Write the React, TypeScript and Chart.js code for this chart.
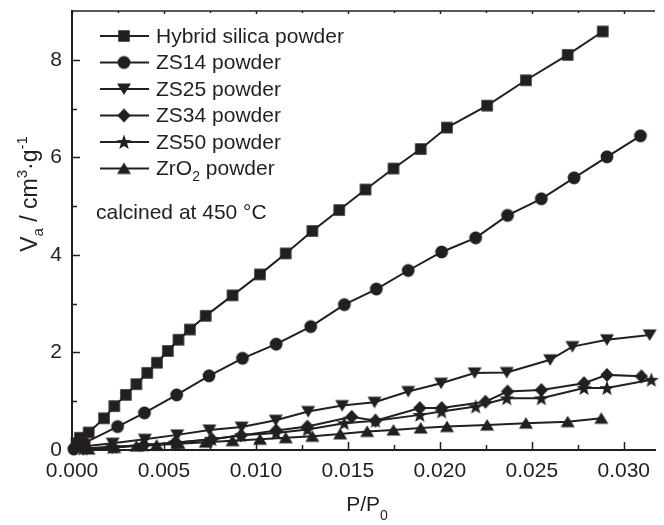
import React, { useEffect, useRef } from 'react';
import { Chart, registerables } from 'chart.js';

Chart.register(...registerables);

const INK = '#231f20';
const FONT = '"Liberation Sans", Arial, sans-serif';

const seriesLabels = ['Hybrid silica powder', 'ZS14 powder', 'ZS25 powder', 'ZS34 powder', 'ZS50 powder', 'ZrO2 powder'];

const hybridX = [0.00025, 0.00043, 0.00091, 0.00174, 0.0023, 0.00293, 0.0035, 0.00409, 0.00462, 0.00521, 0.00579, 0.00641, 0.00727, 0.00873, 0.01022, 0.01162, 0.01307, 0.01453, 0.01596, 0.01748, 0.01896, 0.02039, 0.02257, 0.02468, 0.02695, 0.02886];
const hybridY = [0.14, 0.25, 0.36, 0.65, 0.9, 1.13, 1.35, 1.58, 1.79, 2.03, 2.26, 2.47, 2.75, 3.17, 3.6, 4.03, 4.49, 4.92, 5.34, 5.77, 6.17, 6.61, 7.06, 7.58, 8.1, 8.58];

const zs14X = [0.0001, 0.00066, 0.00248, 0.00394, 0.00569, 0.00745, 0.00927, 0.0111, 0.01298, 0.01481, 0.01655, 0.01828, 0.0201, 0.02195, 0.02368, 0.02552, 0.0273, 0.02909, 0.03091];
const zs14Y = [0.02, 0.14, 0.48, 0.76, 1.13, 1.52, 1.88, 2.17, 2.53, 2.98, 3.3, 3.68, 4.06, 4.35, 4.81, 5.15, 5.58, 6.01, 6.44];

const zs25X = [0.00056, 0.00221, 0.00396, 0.00572, 0.00747, 0.00922, 0.01108, 0.01284, 0.01469, 0.01645, 0.01828, 0.02007, 0.02189, 0.02364, 0.026, 0.02721, 0.02909, 0.03141];
const zs25Y = [0.07, 0.14, 0.22, 0.31, 0.41, 0.47, 0.61, 0.79, 0.91, 0.98, 1.2, 1.37, 1.58, 1.59, 1.85, 2.12, 2.26, 2.36];

const zs34X = [0.0006, 0.0022, 0.0039, 0.0056, 0.0076, 0.0092, 0.0111, 0.0128, 0.01521, 0.0165, 0.01891, 0.0201, 0.02248, 0.02368, 0.02552, 0.02784, 0.02909, 0.03096];
const zs34Y = [0.03, 0.06, 0.1, 0.15, 0.22, 0.3, 0.4, 0.48, 0.68, 0.6, 0.86, 0.86, 0.99, 1.2, 1.23, 1.37, 1.54, 1.51];

const zs50X = [0.0006, 0.0022, 0.0039, 0.0056, 0.0076, 0.0092, 0.0111, 0.0128, 0.0148, 0.0165, 0.01891, 0.0201, 0.02195, 0.02364, 0.02552, 0.02784, 0.02909, 0.0315];
const zs50Y = [0.03, 0.06, 0.1, 0.15, 0.22, 0.3, 0.35, 0.42, 0.55, 0.6, 0.72, 0.79, 0.89, 1.06, 1.06, 1.27, 1.27, 1.44];

const zro2X = [0.0009, 0.0023, 0.0035, 0.0046, 0.0058, 0.00727, 0.00873, 0.01022, 0.01162, 0.01307, 0.01458, 0.01605, 0.01748, 0.01896, 0.02039, 0.02257, 0.02468, 0.02695, 0.02878];
const zro2Y = [0.02, 0.05, 0.08, 0.1, 0.13, 0.16, 0.19, 0.22, 0.25, 0.28, 0.33, 0.38, 0.41, 0.45, 0.48, 0.51, 0.55, 0.58, 0.65];

const xTicks = [0, 0.005, 0.01, 0.015, 0.02, 0.025, 0.03];
const yTicks = [0, 2, 4, 6, 8];
const xMinor = [0.0025, 0.0075, 0.0125, 0.0175, 0.0225, 0.0275];
const yMinor = [1, 3, 5, 7];

type Shape = 'square' | 'circle' | 'down' | 'diamond' | 'star' | 'up';
const shapes: Shape[] = ['square', 'circle', 'down', 'diamond', 'star', 'up'];

function makeMarker(shape: Shape): HTMLCanvasElement {
  const size = 18;
  const c = document.createElement('canvas');
  c.width = size;
  c.height = size;
  const g = c.getContext('2d')!;
  g.fillStyle = INK;
  const m = size / 2;
  g.beginPath();
  if (shape === 'square') {
    g.rect(m - 5.75, m - 5.75, 11.5, 11.5);
  } else if (shape === 'circle') {
    g.arc(m, m, 6.4, 0, Math.PI * 2);
  } else if (shape === 'down') {
    g.moveTo(m - 7, m - 5.5);
    g.lineTo(m + 7, m - 5.5);
    g.lineTo(m, m + 6);
  } else if (shape === 'up') {
    g.moveTo(m, m - 6);
    g.lineTo(m + 7, m + 5.5);
    g.lineTo(m - 7, m + 5.5);
  } else if (shape === 'diamond') {
    g.moveTo(m, m - 7);
    g.lineTo(m + 6.7, m);
    g.lineTo(m, m + 7);
    g.lineTo(m - 6.7, m);
  } else {
    const ro = 8, ri = 3.3;
    for (let i = 0; i < 10; i++) {
      const r = i % 2 === 0 ? ro : ri;
      const a = -Math.PI / 2 + (i * Math.PI) / 5;
      const px = m + r * Math.cos(a);
      const py = m + 0.6 + r * Math.sin(a);
      if (i === 0) g.moveTo(px, py);
      else g.lineTo(px, py);
    }
  }
  g.closePath();
  g.fill();
  return c;
}

function pts(xs: number[], ys: number[]) {
  return xs.map((x, i) => ({ x, y: ys[i] }));
}

export default function App() {
  const ref = useRef<HTMLCanvasElement>(null);

  useEffect(() => {
    if (!ref.current) return;
    const markers = shapes.map(makeMarker);
    const allData = [
      pts(hybridX, hybridY),
      pts(zs14X, zs14Y),
      pts(zs25X, zs25Y),
      pts(zs34X, zs34Y),
      pts(zs50X, zs50Y),
      pts(zro2X, zro2Y),
    ];

    const decor = {
      id: 'decor',
      afterDraw(chart: any) {
        const ctx: CanvasRenderingContext2D = chart.ctx;
        const xs = chart.scales.x;
        const ys = chart.scales.y;
        const area = chart.chartArea;
        ctx.save();
        ctx.strokeStyle = INK;
        ctx.lineWidth = 1.5;
        ctx.beginPath();
        ctx.moveTo(area.left, area.top);
        ctx.lineTo(area.right, area.top);
        ctx.stroke();
        ctx.beginPath();
        xTicks.forEach((v) => {
          const p = Math.round(xs.getPixelForValue(v)) + 0.5;
          ctx.moveTo(p, area.bottom);
          ctx.lineTo(p, area.bottom - 8);
          ctx.moveTo(p, area.top);
          ctx.lineTo(p, area.top + 3);
        });
        xMinor.forEach((v) => {
          const p = Math.round(xs.getPixelForValue(v)) + 0.5;
          ctx.moveTo(p, area.bottom);
          ctx.lineTo(p, area.bottom - 5);
          ctx.moveTo(p, area.top);
          ctx.lineTo(p, area.top + 2);
        });
        yTicks.forEach((v) => {
          const p = Math.round(ys.getPixelForValue(v)) + 0.5;
          ctx.moveTo(area.left, p);
          ctx.lineTo(area.left + 8, p);
        });
        yMinor.forEach((v) => {
          const p = Math.round(ys.getPixelForValue(v)) + 0.5;
          ctx.moveTo(area.left, p);
          ctx.lineTo(area.left + 5, p);
        });
        ctx.stroke();

        // legend
        ctx.fillStyle = INK;
        ctx.textBaseline = 'middle';
        ctx.textAlign = 'left';
        const big = `21px ${FONT}`;
        const small = `14px ${FONT}`;
        seriesLabels.forEach((label, i) => {
          const y = 36 + i * 26.5;
          ctx.lineWidth = 2;
          ctx.beginPath();
          ctx.moveTo(100, y);
          ctx.lineTo(149, y);
          ctx.stroke();
          const mk = markers[i];
          ctx.drawImage(mk, 124 - mk.width / 2, y - mk.height / 2);
          ctx.font = big;
          if (label.startsWith('ZrO2')) {
            const a = 'ZrO';
            ctx.fillText(a, 156, y + 1);
            const w = ctx.measureText(a).width;
            ctx.font = small;
            ctx.fillText('2', 156 + w, y + 9);
            const w2 = ctx.measureText('2').width;
            ctx.font = big;
            ctx.fillText(' powder', 156 + w + w2, y + 1);
          } else {
            ctx.fillText(label, 156, y + 1);
          }
        });
        ctx.font = big;
        ctx.fillText('calcined at 450 \u00B0C', 96, 213);

        // x title
        ctx.textBaseline = 'alphabetic';
        ctx.font = big;
        const t1 = 'P/P';
        const w1 = ctx.measureText(t1).width;
        ctx.font = small;
        const ws = ctx.measureText('0').width;
        const total = w1 + ws;
        const cx = 367;
        ctx.font = big;
        ctx.fillText(t1, cx - total / 2, 511);
        ctx.font = small;
        ctx.fillText('0', cx - total / 2 + w1, 520);

        // y title
        const tbig = `23px ${FONT}`;
        const tsmall = `15px ${FONT}`;
        ctx.save();
        ctx.translate(37, 194);
        ctx.rotate(-Math.PI / 2);
        const parts: [string, string, number][] = [
          ['V', tbig, 0],
          ['a', tsmall, 6],
          [' / cm', tbig, 0],
          ['3', tsmall, -10],
          ['\u00B7g', tbig, 0],
          ['-1', tsmall, -10],
        ];
        let tw = 0;
        parts.forEach(([s, f]) => {
          ctx.font = f;
          tw += ctx.measureText(s).width;
        });
        let xx = -tw / 2;
        parts.forEach(([s, f, dy]) => {
          ctx.font = f;
          ctx.fillText(s, xx, dy);
          xx += ctx.measureText(s).width;
        });
        ctx.restore();
        ctx.restore();
      },
    };

    const chart = new Chart(ref.current, {
      type: 'scatter',
      data: {
        datasets: allData.map((d, i) => ({
          label: seriesLabels[i],
          data: d,
          showLine: true,
          borderColor: INK,
          borderWidth: 2,
          backgroundColor: INK,
          pointStyle: markers[i] as any,
          pointRadius: 7,
          clip: false as any,
        })),
      },
      options: {
        responsive: false,
        animation: false,
        layout: { padding: { top: 11, right: 0, left: 0, bottom: 0 } },
        plugins: { legend: { display: false }, tooltip: { enabled: false } },
        scales: {
          x: {
            type: 'linear',
            min: 0,
            max: 0.0317,
            afterBuildTicks: (s: any) => {
              s.ticks = xTicks.map((v) => ({ value: v }));
            },
            afterFit: (s: any) => {
              s.height = 75;
              s.paddingLeft = 0;
              s.paddingRight = 0;
            },
            grid: { display: false, drawTicks: false },
            border: { display: true, color: INK, width: 2 },
            ticks: {
              color: INK,
              font: { family: FONT, size: 21 },
              padding: 9,
              maxRotation: 0,
              autoSkip: false,
              callback: (v: any) => Number(v).toFixed(3),
            },
          },
          y: {
            type: 'linear',
            min: 0,
            max: 9,
            afterBuildTicks: (s: any) => {
              s.ticks = yTicks.map((v) => ({ value: v }));
            },
            afterFit: (s: any) => {
              s.width = 72;
              s.paddingTop = 0;
              s.paddingBottom = 0;
            },
            grid: { display: false, drawTicks: false },
            border: { display: true, color: INK, width: 2 },
            ticks: {
              color: INK,
              font: { family: FONT, size: 21 },
              padding: 10,
              autoSkip: false,
              callback: (v: any) => String(v),
            },
          },
        },
      },
      plugins: [decor],
    });
    return () => chart.destroy();
  }, []);

  return (
    <div style={{ position: 'fixed', left: 0, top: 0, width: 664, height: 525, background: '#fff' }}>
      <canvas ref={ref} width={664} height={525} style={{ display: 'block' }} />
    </div>
  );
}
